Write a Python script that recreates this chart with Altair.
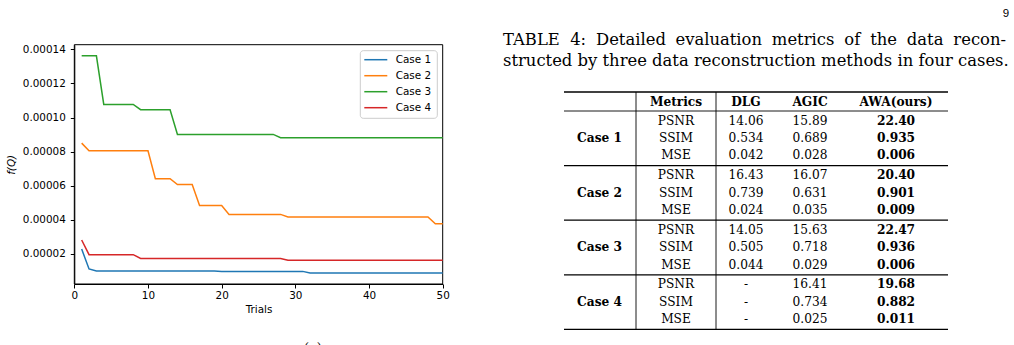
import altair as alt
import pandas as pd

# ---------------- data ----------------
trials = list(range(1, 51))
case_names = ["Case 1", "Case 2", "Case 3", "Case 4"]
case_colors = ["#1f77b4", "#ff7f0e", "#2ca02c", "#d62728"]

case1 = [2.29e-5, 1.12e-5, 1.00e-5, 1.00e-5, 1.00e-5, 1.00e-5, 1.00e-5, 1.00e-5, 1.00e-5, 1.00e-5,
         1.00e-5, 1.00e-5, 1.00e-5, 1.00e-5, 1.00e-5, 1.00e-5, 1.00e-5, 1.00e-5, 1.00e-5, 0.98e-5,
         0.98e-5, 0.98e-5, 0.98e-5, 0.98e-5, 0.98e-5, 0.98e-5, 0.98e-5, 0.98e-5, 0.98e-5, 0.98e-5,
         0.98e-5, 0.88e-5, 0.88e-5, 0.88e-5, 0.88e-5, 0.88e-5, 0.88e-5, 0.88e-5, 0.88e-5, 0.88e-5,
         0.88e-5, 0.88e-5, 0.88e-5, 0.88e-5, 0.88e-5, 0.88e-5, 0.88e-5, 0.88e-5, 0.88e-5, 0.88e-5]
case2 = [8.50e-5, 8.05e-5, 8.05e-5, 8.05e-5, 8.05e-5, 8.05e-5, 8.05e-5, 8.05e-5, 8.05e-5, 8.05e-5,
         6.41e-5, 6.41e-5, 6.41e-5, 6.07e-5, 6.07e-5, 6.07e-5, 4.84e-5, 4.84e-5, 4.84e-5, 4.84e-5,
         4.32e-5, 4.32e-5, 4.32e-5, 4.32e-5, 4.32e-5, 4.32e-5, 4.32e-5, 4.32e-5, 4.17e-5, 4.17e-5,
         4.17e-5, 4.17e-5, 4.17e-5, 4.17e-5, 4.17e-5, 4.17e-5, 4.17e-5, 4.17e-5, 4.17e-5, 4.17e-5,
         4.17e-5, 4.17e-5, 4.17e-5, 4.17e-5, 4.17e-5, 4.17e-5, 4.17e-5, 4.17e-5, 3.77e-5, 3.77e-5]
case3 = [13.62e-5, 13.62e-5, 13.62e-5, 10.77e-5, 10.77e-5, 10.77e-5, 10.77e-5, 10.77e-5, 10.46e-5, 10.46e-5,
         10.46e-5, 10.46e-5, 10.46e-5, 9.01e-5, 9.01e-5, 9.01e-5, 9.01e-5, 9.01e-5, 9.01e-5, 9.01e-5,
         9.01e-5, 9.01e-5, 9.01e-5, 9.01e-5, 9.01e-5, 9.01e-5, 9.01e-5, 8.82e-5, 8.82e-5, 8.82e-5,
         8.82e-5, 8.82e-5, 8.82e-5, 8.82e-5, 8.82e-5, 8.82e-5, 8.82e-5, 8.82e-5, 8.82e-5, 8.82e-5,
         8.82e-5, 8.82e-5, 8.82e-5, 8.82e-5, 8.82e-5, 8.82e-5, 8.82e-5, 8.82e-5, 8.82e-5, 8.82e-5]
case4 = [2.82e-5, 1.96e-5, 1.96e-5, 1.96e-5, 1.96e-5, 1.96e-5, 1.96e-5, 1.96e-5, 1.74e-5, 1.74e-5,
         1.74e-5, 1.74e-5, 1.74e-5, 1.74e-5, 1.74e-5, 1.74e-5, 1.74e-5, 1.74e-5, 1.74e-5, 1.74e-5,
         1.74e-5, 1.74e-5, 1.74e-5, 1.74e-5, 1.74e-5, 1.74e-5, 1.74e-5, 1.74e-5, 1.63e-5, 1.63e-5,
         1.63e-5, 1.63e-5, 1.63e-5, 1.63e-5, 1.63e-5, 1.63e-5, 1.63e-5, 1.63e-5, 1.63e-5, 1.63e-5,
         1.63e-5, 1.63e-5, 1.63e-5, 1.63e-5, 1.63e-5, 1.63e-5, 1.63e-5, 1.63e-5, 1.63e-5, 1.63e-5]

x_ticks = [0, 10, 20, 30, 40, 50]
y_ticks = [0.00002, 0.00004, 0.00006, 0.00008, 0.00010, 0.00012, 0.00014]
x_domain = [0, 50]
y_domain = [0.0000024, 0.0001427]

caption_line1 = ["TABLE", "4:", "Detailed", "evaluation", "metrics", "of", "the", "data", "recon-"]
caption_line2 = "structed by three data reconstruction methods in four cases."
page_number = "9"

table_header = ["Metrics", "DLG", "AGIC", "AWA(ours)"]
metrics = ["PSNR", "SSIM", "MSE"]
dlg = ["14.06", "0.534", "0.042", "16.43", "0.739", "0.024", "14.05", "0.505", "0.044", "-", "-", "-"]
agic = ["15.89", "0.689", "0.028", "16.07", "0.631", "0.035", "15.63", "0.718", "0.029", "16.41", "0.734", "0.025"]
awa = ["22.40", "0.935", "0.006", "20.40", "0.901", "0.009", "22.47", "0.936", "0.006", "19.68", "0.882", "0.011"]

# ---------------- layout ----------------
W, H = 1014, 345
PX0, PX1 = 74.3, 442.7      # plot area left/right
PY0, PY1 = 44.7, 284.0      # plot area top/bottom
SANS = "DejaVu Sans"
SERIF = "DejaVu Serif"
TICK_FS = 10.4

series = {"Case 1": case1, "Case 2": case2, "Case 3": case3, "Case 4": case4}
long = pd.DataFrame([
    {"trial": t, "value": v, "case": name}
    for name in case_names for t, v in zip(trials, series[name])
])

xs = alt.Scale(domain=x_domain, range=[PX0, PX1], nice=False, zero=False)
ys = alt.Scale(domain=y_domain, range=[PY1, PY0], nice=False, zero=False)
cs = alt.Scale(domain=case_names, range=case_colors)

lines = alt.Chart(long).mark_line(strokeWidth=1.5).encode(
    x=alt.X("trial:Q", scale=xs, axis=alt.Axis(
        values=x_ticks, format="d", title="Trials", offset=PY1 - H, grid=False,
        tickSize=4, labelPadding=2.5, titlePadding=4, labelFlush=False)),
    y=alt.Y("value:Q", scale=ys, axis=alt.Axis(
        values=y_ticks, format=".5f", title="f(Q)", offset=-PX0, grid=False,
        tickSize=4, labelPadding=5, titlePadding=6, titleFontStyle="italic", labelFlush=False)),
    color=alt.Color("case:N", scale=cs, legend=None),
    detail="case:N",
)

frame = alt.Chart(pd.DataFrame({"x": [x_domain[0]], "x2": [x_domain[1]],
                                "y": [y_domain[0]], "y2": [y_domain[1]]})).mark_rect(
    filled=False, stroke="black", strokeWidth=1).encode(
    x=alt.X("x:Q", scale=xs, axis=None), x2="x2:Q",
    y=alt.Y("y:Q", scale=ys, axis=None), y2="y2:Q")

# legend (manual, matplotlib style)
leg_df = pd.DataFrame({"case": case_names,
                       "ly": [59.7 + 16 * i for i in range(len(case_names))]})
leg_box = alt.Chart(pd.DataFrame({"a": [0]})).mark_rect(
    fill="white", fillOpacity=0.8, stroke="#cccccc", strokeWidth=1, cornerRadius=3).encode(
    x=alt.value(360.3), x2=alt.value(437.3), y=alt.value(50.7), y2=alt.value(118.3))
leg_lines = alt.Chart(leg_df).mark_rule(strokeWidth=1.5).encode(
    x=alt.value(364.3), x2=alt.value(387.3),
    y=alt.Y("ly:Q", scale=None, axis=None),
    color=alt.Color("case:N", scale=cs, legend=None))
leg_text = alt.Chart(leg_df).mark_text(
    font=SANS, fontSize=TICK_FS, align="left", baseline="middle", color="black").encode(
    x=alt.value(395.7), y=alt.Y("ly:Q", scale=None, axis=None), text="case:N")

# ---------------- caption ----------------
SERIF_W = {
    " ": .318, "a": .596, "b": .640, "c": .560, "d": .640, "e": .592, "f": .370, "h": .640,
    "i": .320, "l": .320, "m": .950, "n": .640, "o": .602, "r": .478, "s": .513, "t": .402,
    "u": .640, "v": .566, "y": .566, "T": .680, "A": .722, "B": .730, "L": .660, "E": .700,
    "D": .780, "4": .636, ":": .337, "-": .338, ".": .318,
}


def text_w(s, fs):
    return sum(SERIF_W.get(ch, 0.6) for ch in s) * fs


CAP_FS = 16.4
CAP_X0, CAP_X1 = 503.0, 1006.0
widths = [text_w(w, CAP_FS) for w in caption_line1]
gap = (CAP_X1 - CAP_X0 - sum(widths)) / (len(caption_line1) - 1)
cap_rows = []
xpos = CAP_X0
for w, wd in zip(caption_line1, widths):
    cap_rows.append({"t": w, "px": xpos, "py": 44.5})
    xpos += wd + gap
cap_rows.append({"t": caption_line2, "px": CAP_X0, "py": 65.8})
caption = alt.Chart(pd.DataFrame(cap_rows)).mark_text(
    font=SERIF, fontSize=CAP_FS, align="left", baseline="alphabetic", color="black").encode(
    x=alt.X("px:Q", scale=None, axis=None), y=alt.Y("py:Q", scale=None, axis=None), text="t:N")

page = alt.Chart(pd.DataFrame({"t": [page_number]})).mark_text(
    font="Liberation Sans", fontSize=11.5, align="center", baseline="alphabetic", color="black").encode(
    x=alt.value(1006), y=alt.value(16.7), text="t:N")

subcap = alt.Chart(pd.DataFrame({"t": ["(a)"]})).mark_text(
    font=SERIF, fontSize=13, align="center", baseline="top", color="black").encode(
    x=alt.value(313), y=alt.value(341.5), text="t:N")

# ---------------- table ----------------
T_X0, T_X1 = 564.0, 948.0
T_TOP, T_HEAD_RULE, GROUP_H = 92.0, 111.0, 54.6
ROW0, ROW_H = 9.5, 17.4
V_LINES = [636.0, 716.0]
COL_CASE, COL_MET, COL_DLG, COL_AGIC, COL_AWA = 599.5, 676.0, 746.0, 810.0, 896.0
T_BOTTOM = T_HEAD_RULE + GROUP_H * 4
TABLE_FS = 12.2

norm_rows, bold_rows = [], []
for c, h in zip([COL_MET, COL_DLG, COL_AGIC, COL_AWA], table_header):
    bold_rows.append({"t": h, "px": c, "py": 101.5})
for g, cname in enumerate(case_names):
    top = T_HEAD_RULE + GROUP_H * g
    bold_rows.append({"t": cname, "px": COL_CASE, "py": top + ROW0 + ROW_H})
    for r, m in enumerate(metrics):
        k = g * 3 + r
        yy = top + ROW0 + ROW_H * r
        norm_rows.append({"t": m, "px": COL_MET, "py": yy})
        norm_rows.append({"t": dlg[k], "px": COL_DLG, "py": yy})
        norm_rows.append({"t": agic[k], "px": COL_AGIC, "py": yy})
        bold_rows.append({"t": awa[k], "px": COL_AWA, "py": yy})

rules = [{"x": T_X0, "x2": T_X1, "y": T_TOP, "y2": T_TOP, "w": 1.4},
         {"x": T_X0, "x2": T_X1, "y": T_HEAD_RULE, "y2": T_HEAD_RULE, "w": 0.9}]
for g in range(1, 4):
    yy = T_HEAD_RULE + GROUP_H * g
    rules.append({"x": T_X0, "x2": T_X1, "y": yy, "y2": yy, "w": 1.2})
rules.append({"x": T_X0, "x2": T_X1, "y": T_BOTTOM, "y2": T_BOTTOM, "w": 1.4})
for vx in V_LINES:
    rules.append({"x": vx, "x2": vx, "y": T_TOP, "y2": T_BOTTOM, "w": 0.9})

table_rules = alt.Chart(pd.DataFrame(rules)).mark_rule(color="black").encode(
    x=alt.X("x:Q", scale=None, axis=None), x2="x2:Q",
    y=alt.Y("y:Q", scale=None, axis=None), y2="y2:Q",
    strokeWidth=alt.StrokeWidth("w:Q", scale=None, legend=None))
table_norm = alt.Chart(pd.DataFrame(norm_rows)).mark_text(
    font=SERIF, fontSize=TABLE_FS, align="center", baseline="middle", color="black").encode(
    x=alt.X("px:Q", scale=None, axis=None), y=alt.Y("py:Q", scale=None, axis=None), text="t:N")
table_bold = alt.Chart(pd.DataFrame(bold_rows)).mark_text(
    font=SERIF, fontSize=TABLE_FS, fontWeight="bold", align="center", baseline="middle",
    color="black").encode(
    x=alt.X("px:Q", scale=None, axis=None), y=alt.Y("py:Q", scale=None, axis=None), text="t:N")

chart = alt.layer(
    frame, lines, leg_box, leg_lines, leg_text,
    caption, page, subcap, table_rules, table_norm, table_bold,
).resolve_scale(
    x="independent", y="independent", color="independent", strokeWidth="independent"
).properties(
    width=W, height=H, padding=0, autosize=alt.AutoSizeParams(type="none"),
).configure_view(stroke=None).configure_axis(
    labelFont=SANS, labelFontSize=TICK_FS, labelColor="black",
    titleFont=SANS, titleFontSize=TICK_FS, titleColor="black", titleFontWeight="normal",
    tickColor="black", domainColor="black", tickWidth=1, domainWidth=1,
)

chart.save("out.html", embed_options={"renderer": "svg", "actions": False})
